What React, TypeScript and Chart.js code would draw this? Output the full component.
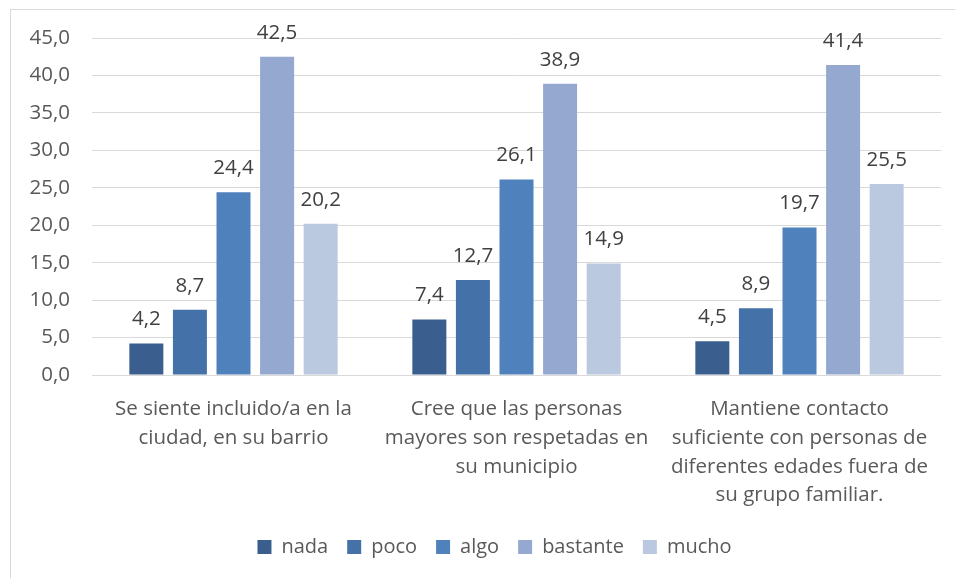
import React, { useEffect, useRef } from "react";
import { Chart, registerables } from "chart.js";

Chart.register(...registerables);

const categories: string[][] = [
  ["Se siente incluido/a en la", "ciudad, en su barrio"],
  ["Cree que las personas", "mayores son respetadas en", "su municipio"],
  ["Mantiene contacto", "suficiente con personas de", "diferentes edades fuera de", "su grupo familiar."],
];

const seriesNames = ["nada", "poco", "algo", "bastante", "mucho"];
const nada = [4.2, 7.4, 4.5];
const poco = [8.7, 12.7, 8.9];
const algo = [24.4, 26.1, 19.7];
const bastante = [42.5, 38.9, 41.4];
const mucho = [20.2, 14.9, 25.5];
const seriesColors = ["#3A5F8F", "#4472A8", "#4F81BD", "#95A9D0", "#BAC8E0"];

const yTicks = [0, 5, 10, 15, 20, 25, 30, 35, 40, 45];

const FONT = "'Open Sans', sans-serif";
const SIZE = 20.5;

const fmt = (v: number) => v.toFixed(1).replace(".", ",");

// Writes each bar's value above it
const valueLabels = {
  id: "valueLabels",
  afterDatasetsDraw(chart: any) {
    const ctx = chart.ctx;
    ctx.save();
    ctx.font = `${SIZE}px ${FONT}`;
    ctx.fillStyle = "#404040";
    ctx.textAlign = "center";
    ctx.textBaseline = "middle";
    chart.data.datasets.forEach((ds: any, i: number) => {
      const meta = chart.getDatasetMeta(i);
      meta.data.forEach((bar: any, j: number) => {
        ctx.fillText(fmt(ds.data[j]), bar.x, bar.y - 24);
      });
    });
    ctx.restore();
  },
};

// Centres the legend row under the plot area rather than the whole canvas
const legendShift = {
  id: "legendShift",
  afterLayout(chart: any) {
    const lg = chart.legend;
    if (!lg) return;
    lg.left += 24;
    lg.right += 24;
  },
};

export default function App() {
  const ref = useRef<HTMLCanvasElement>(null);

  useEffect(() => {
    if (!ref.current) return;
    const allSeries = [nada, poco, algo, bastante, mucho];
    const chart = new Chart(ref.current, {
      type: "bar",
      data: {
        labels: categories,
        datasets: allSeries.map((d, i) => ({
          label: seriesNames[i],
          data: d,
          backgroundColor: seriesColors[i],
          borderWidth: 0,
          categoryPercentage: 0.77,
          barPercentage: 0.78,
        })),
      },
      options: {
        animation: false,
        responsive: false,
        maintainAspectRatio: false,
        layout: { padding: { left: 0, right: 14, top: 38, bottom: 11 } },
        scales: {
          x: {
            grid: { display: false, drawTicks: false },
            border: { display: false },
            ticks: {
              color: "#595959",
              font: { family: FONT, size: SIZE, lineHeight: 1.4 },
              padding: 20,
              maxRotation: 0,
              autoSkip: false,
            },
            afterFit: (scale: any) => {
              scale.height = 143;
            },
          },
          y: {
            min: 0,
            max: 45,
            afterBuildTicks: (scale: any) => {
              scale.ticks = yTicks.map((v) => ({ value: v }));
            },
            grid: { color: "#D9D9D9", lineWidth: 1, drawTicks: false },
            border: { display: false },
            ticks: {
              color: "#595959",
              font: { family: FONT, size: SIZE },
              padding: 22,
              callback: (v: any) => fmt(Number(v)),
            },
            afterFit: (scale: any) => {
              scale.width = 92;
            },
          },
        },
        plugins: {
          legend: {
            position: "bottom",
            labels: {
              color: "#595959",
              font: { family: FONT, size: 20 },
              boxWidth: 14,
              boxHeight: 14,
              padding: 19,
            },
          },
          tooltip: { enabled: false },
        },
      },
      plugins: [valueLabels, legendShift],
    });
    return () => chart.destroy();
  }, []);

  return (
    <>
      <div
        style={{
          position: "fixed",
          left: 10,
          top: 9,
          width: 1000,
          height: 1000,
          border: "1px solid #D9D9D9",
          boxSizing: "border-box",
        }}
      />
      <canvas
        ref={ref}
        width={955}
        height={578}
        style={{ position: "fixed", left: 0, top: 0, width: 955, height: 578 }}
      />
    </>
  );
}
